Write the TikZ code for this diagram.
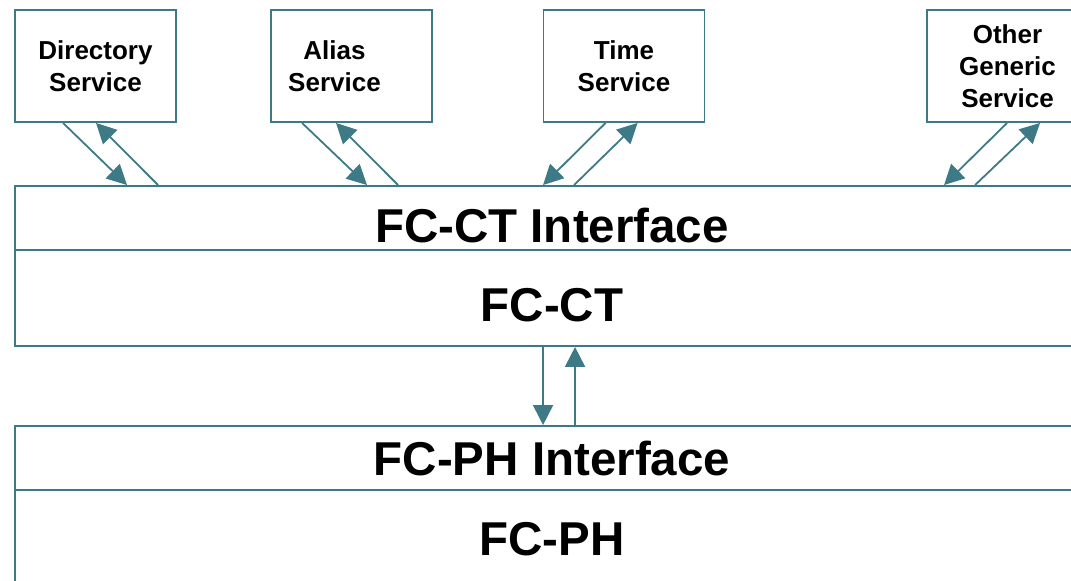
\documentclass[tikz,border=0pt]{standalone}
\usepackage{fontspec}
\setmainfont{Liberation Sans}
\usepackage{tikz}
\usetikzlibrary{arrows.meta}
\definecolor{fcteal}{HTML}{3D7A86}
\tikzset{
  svctext/.style={font=\fontsize{26}{32}\selectfont\bfseries, align=center},
  svc/.style={draw=fcteal, line width=1.9pt, minimum width=161pt, minimum height=112pt, inner sep=0pt, svctext},
  layer/.style={draw=fcteal, line width=1.9pt, minimum width=1074pt, inner sep=0pt},
  layertext/.style={font=\fontsize{47.5}{50}\selectfont\bfseries, text height=34pt, text depth=0pt, inner sep=0pt},
  link/.style={draw=fcteal, line width=1.8pt, -{Triangle[length=20pt, width=20pt]}, fcteal}
}

\begin{document}
\begin{tikzpicture}[x=1pt, y=-1pt]

  % page
  \useasboundingbox (0,0) rectangle (1071,581);
  \clip (0,0) rectangle (1071,581);

  % service boxes
  \node[svc] (dir) at (95.5,66) {Directory\\Service};
  \node[svc, label={[svctext, xshift=-17pt]center:Alias\\Service}] (alias) at (351.5,66) {};
  \node[svc] (time) at (624,66) {Time\\Service};
  \node[svc] (other) at (1007.5,66) {Other\\Generic\\Service};

  % layers
  \node[layer, minimum height=64pt] (ctif) at (552,218) {};
  \node[layer, minimum height=96pt] (ct) at (552,298) {};
  \node[layer, minimum height=64pt] (phif) at (552,458) {};
  \node[layer, minimum height=96pt] (ph) at (552,538) {};

  \node[layertext] (ctiftext) at (552,225) {FC-CT Interface};
  \node[layertext] (cttext) at (552,304) {FC-CT};
  \node[layertext] (phiftext) at (552,458.5) {FC-PH Interface};
  \node[layertext] (phtext) at (552,538) {FC-PH};

  % services <-> FC-CT interface
  \draw[link] ([xshift=49pt]dir.south west) -- ([xshift=113pt]ctif.north west);
  \draw[link] ([xshift=144pt]ctif.north west) -- ([xshift=82pt]dir.south west);

  \draw[link] ([xshift=32pt]alias.south west) -- ([xshift=353pt]ctif.north west);
  \draw[link] ([xshift=384pt]ctif.north west) -- ([xshift=66pt]alias.south west);

  \draw[link] ([xshift=63pt]time.south west) -- ([xshift=529pt]ctif.north west);
  \draw[link] ([xshift=560pt]ctif.north west) -- ([xshift=95pt]time.south west);

  \draw[link] ([xshift=81pt]other.south west) -- ([xshift=930pt]ctif.north west);
  \draw[link] ([xshift=961pt]ctif.north west) -- ([xshift=114pt]other.south west);

  % FC-CT <-> FC-PH interface
  \draw[link] ([xshift=529pt]ct.south west) -- ([xshift=529pt]phif.north west);
  \draw[link] ([xshift=561pt]phif.north west) -- ([xshift=561pt]ct.south west);

\end{tikzpicture}
\end{document}
